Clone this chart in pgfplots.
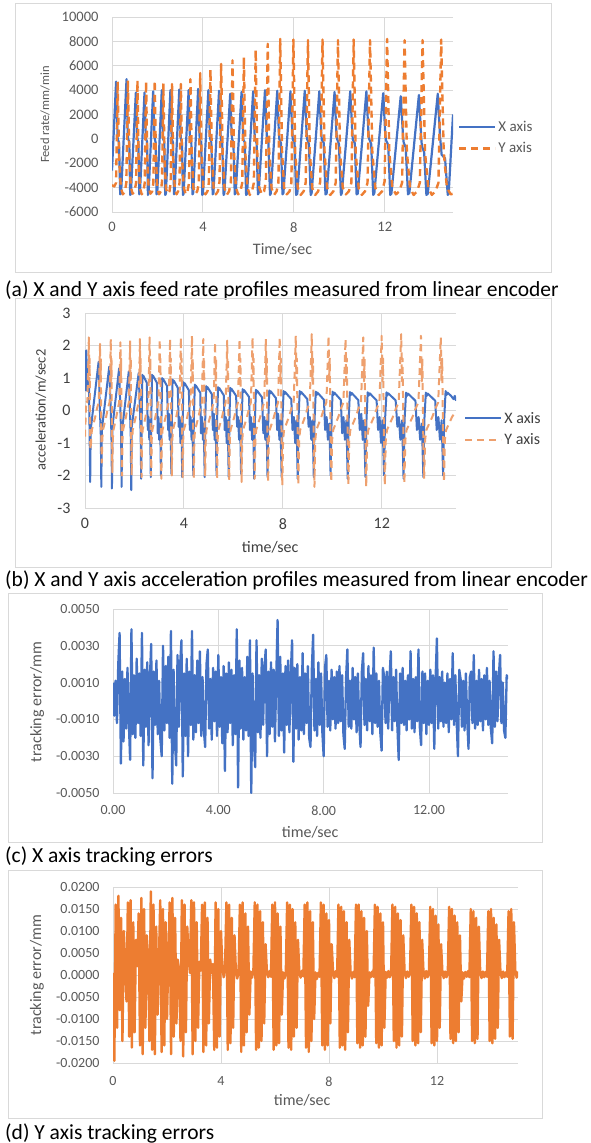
\documentclass[border=0pt]{standalone}
\usepackage{fontspec}
\setmainfont{Carlito}
\usepackage{pgfplots}
\pgfplotsset{compat=1.18}

\definecolor{xblue}{HTML}{4472C4}
\definecolor{yorange}{HTML}{ED7D31}
\definecolor{ylight}{HTML}{EEA06E}
\definecolor{gridgray}{HTML}{D9D9D9}
\definecolor{labgray}{HTML}{595959}
\definecolor{labdark}{HTML}{404040}

\pgfplotsset{
  excel/.style={
    scale only axis,
    xmin=0, xmax=15,
    xtick={0,4,8,12},
    axis x line*=bottom, axis y line*=left,
    axis line style={draw=gridgray, line width=0.9pt, -},
    grid=major,
    major grid style={draw=gridgray, line width=0.9pt},
    major tick length=0pt,
    tick style={draw=none},
    scaled ticks=false,
    clip=true,
    legend cell align=left,
    legend image code/.code={\draw[##1] (0pt,0pt) -- (36pt,0pt);},
    every axis plot/.append style={line join=round, mark=none},
  },
}

\begin{document}
\begin{tikzpicture}
\useasboundingbox (0pt,0pt) rectangle (590pt,-1143pt);
\fill[white] (0pt,0pt) rectangle (590pt,-1143pt);

% ---------------- (a) feed rate ----------------
\draw[gridgray, line width=0.9pt] (15pt,-3pt) rectangle (551pt,-272pt);
\begin{axis}[excel,
  at={(112pt,-212pt)}, anchor=south west,
  width=341pt, height=195pt,
  ymin=-6000, ymax=10000,
  ytick={-6000,-4000,-2000,0,2000,4000,6000,8000,10000},
  yticklabels={-6000,-4000,-2000,0,2000,4000,6000,8000,10000},
  xticklabels={0,4,8,12},
  tick label style={font=\fontsize{14.5}{17}\selectfont, text=labgray},
  yticklabel style={xshift=-10pt},
  xticklabel style={yshift=-7pt},
  xlabel={Time/sec},
  xlabel style={at={(axis description cs:0.5,-0.19)}, anchor=center, font=\fontsize{16}{19}\selectfont, text=labgray},
  ylabel={Feed rate/mm/min},
  ylabel style={at={(axis description cs:-0.196,0.5)}, anchor=center, font=\fontsize{12.5}{15}\selectfont, text=labgray},
  legend style={at={(axis description cs:1.014,0.382)}, anchor=west, draw=none, fill=none,
    font=\fontsize{15}{18}\selectfont, text=labgray, row sep=6pt, inner sep=0pt},
]
\addplot[xblue, line width=2.2pt] coordinates {
 (0.00,-2600)
 (0.18,4700) (0.24,600) (0.25,0) (0.31,-300) (0.36,-4550) (0.40,-4450)
 (0.64,4900) (0.69,500) (0.71,0) (0.76,-250) (0.80,-4600) (0.83,-4500)
 (1.05,3800) (1.10,600) (1.11,100) (1.16,-300) (1.20,-4550) (1.23,-4400)
 (1.43,3800) (1.48,500) (1.49,0) (1.54,-200) (1.58,-4600) (1.61,-4450)
 (1.81,3900) (1.86,700) (1.87,100) (1.92,-300) (1.96,-4550) (1.99,-4450)
 (2.19,4000) (2.24,600) (2.25,0) (2.30,-250) (2.34,-4600) (2.37,-4500)
 (2.57,4000) (2.62,500) (2.63,0) (2.68,-300) (2.73,-4550) (2.75,-4450)
 (2.96,4050) (3.01,600) (3.03,0) (3.08,-300) (3.12,-4600) (3.15,-4500)
 (3.37,4000) (3.42,500) (3.44,-50) (3.49,-350) (3.54,-4550) (3.57,-4450)
 (3.79,4100) (3.84,600) (3.86,0) (3.92,-300) (3.97,-4600) (4.00,-4500)
 (4.24,4000) (4.30,500) (4.32,0) (4.37,-300) (4.43,-4550) (4.46,-4450)
 (4.71,3950) (4.77,600) (4.79,-100) (4.85,-350) (4.91,-4600) (4.94,-4500)
 (5.20,3700) (5.26,500) (5.28,0) (5.34,-300) (5.40,-4550) (5.44,-4450)
 (5.70,3850) (5.76,600) (5.78,-50) (5.84,-300) (5.90,-4600) (5.94,-4500)
 (6.21,3900) (6.27,500) (6.29,0) (6.36,-350) (6.42,-4550) (6.45,-4450)
 (6.73,4000) (6.80,600) (6.82,-100) (6.88,-300) (6.95,-4600) (6.98,-4500)
 (7.27,3950) (7.34,500) (7.36,0) (7.43,-350) (7.50,-4550) (7.54,-4450)
 (7.85,3900) (7.93,600) (7.95,-50) (8.03,-300) (8.10,-4600) (8.15,-4500)
 (8.48,3950) (8.56,500) (8.58,0) (8.66,-400) (8.74,-4600) (8.78,-4450)
 (9.12,3900) (9.20,600) (9.23,-100) (9.31,-300) (9.39,-4550) (9.44,-4500)
 (9.79,3850) (9.87,500) (9.90,0) (9.98,-400) (10.07,-4600) (10.11,-4450)
 (10.48,3900) (10.57,600) (10.59,-50) (10.68,-350) (10.76,-4550) (10.81,-4500)
 (11.19,3900) (11.28,500) (11.31,0) (11.40,-400) (11.49,-4600) (11.54,-4450)
 (11.93,3750) (12.02,400) (12.05,-100) (12.15,-500) (12.24,-4600) (12.29,-4500)
 (12.70,3500) (12.80,300) (12.83,-300) (12.92,-700) (13.02,-4550) (13.08,-4450)
 (13.50,3600) (13.60,200) (13.63,-600) (13.73,-1100) (13.83,-4600) (13.89,-4500)
 (14.33,3700) (14.43,200) (14.50,-1300) (14.65,-1600) (14.77,-4600) (14.81,-4500) (15.00,2000)
};
\addlegendentry{X axis}
\addplot[yorange, line width=2.4pt, dash pattern=on 7pt off 5pt] coordinates {
 (0.00,-3800) (0.10,-3900) (0.18,-3600)
 (0.25,4700) (0.31,-1500) (0.39,-4000) (0.48,-4550) (0.57,-4300) (0.63,-3600)
 (0.70,4800) (0.76,-1400) (0.83,-4000) (0.91,-4500) (0.99,-4300) (1.06,-3600)
 (1.12,4800) (1.17,-1600) (1.23,-4050) (1.31,-4550) (1.39,-4250) (1.44,-3600)
 (1.50,4700) (1.55,-1500) (1.61,-4000) (1.69,-4500) (1.77,-4300) (1.82,-3600)
 (1.88,4800) (1.93,-1400) (1.99,-4000) (2.07,-4550) (2.15,-4300) (2.20,-3500)
 (2.26,4550) (2.31,-1500) (2.37,-4050) (2.45,-4500) (2.53,-4300) (2.58,-3600)
 (2.64,4500) (2.69,-1600) (2.76,-4000) (2.84,-4550) (2.91,-4300) (2.97,-3600)
 (3.03,4500) (3.08,-1500) (3.16,-4000) (3.24,-4550) (3.32,-4300) (3.39,-3600)
 (3.45,4900) (3.51,-1400) (3.58,-4050) (3.67,-4500) (3.75,-4300) (3.82,-3600)
 (3.88,5400) (3.94,-1300) (4.02,-4000) (4.11,-4550) (4.20,-4300) (4.26,-3600)
 (4.33,5700) (4.39,-1200) (4.47,-4000) (4.57,-4550) (4.66,-4300) (4.73,-3500)
 (4.80,6150) (4.87,-1300) (4.95,-4050) (5.05,-4600) (5.15,-4300) (5.23,-3600)
 (5.30,6450) (5.37,-1200) (5.45,-4000) (5.55,-4550) (5.65,-4300) (5.73,-3600)
 (5.80,6700) (5.87,-1300) (5.96,-4000) (6.06,-4600) (6.16,-4300) (6.24,-3600)
 (6.32,7300) (6.39,-1100) (6.48,-4000) (6.59,-4550) (6.69,-4300) (6.77,-3500)
 (6.85,7800) (6.92,-1200) (7.02,-4050) (7.13,-4600) (7.24,-4300) (7.32,-3600)
 (7.40,8200) (7.48,-1000) (7.57,-4000) (7.69,-4550) (7.81,-4300) (7.89,-3600)
 (7.98,8150) (8.06,-1100) (8.17,-4000) (8.30,-4600) (8.43,-4300) (8.52,-3600)
 (8.62,8100) (8.70,-1000) (8.81,-4050) (8.94,-4600) (9.07,-4300) (9.16,-3500)
 (9.26,8150) (9.35,-1100) (9.46,-4000) (9.60,-4600) (9.74,-4300) (9.84,-3600)
 (9.94,8100) (10.03,-1000) (10.15,-4000) (10.29,-4550) (10.42,-4300) (10.53,-3600)
 (10.63,8150) (10.72,-1100) (10.85,-4050) (10.99,-4600) (11.13,-4300) (11.24,-3600)
 (11.35,8100) (11.45,-1000) (11.58,-4000) (11.73,-4600) (11.88,-4300) (11.99,-3500)
 (12.10,8200) (12.20,-1100) (12.33,-4000) (12.49,-4550) (12.64,-4300) (12.76,-3600)
 (12.87,8100) (12.97,-1000) (13.11,-4050) (13.27,-4600) (13.42,-4300) (13.54,-3600)
 (13.66,8100) (13.77,-1100) (13.91,-4000) (14.07,-4600) (14.23,-4300) (14.36,-3600)
 (14.48,8150) (14.59,-1000) (14.73,-4000) (14.90,-4550) (15.00,-4500)
};
\addlegendentry{Y axis}
\end{axis}
\node[anchor=west, font=\fontsize{21.5}{25}\selectfont, inner sep=0pt] at (5pt,-290pt) {(a) X and Y axis feed rate profiles measured from linear encoder};

% ---------------- (b) acceleration ----------------
\draw[gridgray, line width=0.9pt] (15pt,-298pt) rectangle (551pt,-567pt);
\begin{axis}[excel,
  at={(85pt,-508pt)}, anchor=south west,
  width=371pt, height=195pt,
  ymin=-3, ymax=3,
  ytick={-3,-2,-1,0,1,2,3},
  yticklabels={-3,-2,-1,0,1,2,3},
  xticklabels={0,4,8,12},
  tick label style={font=\fontsize{16}{19}\selectfont, text=labdark},
  yticklabel style={xshift=-11pt},
  xticklabel style={yshift=-7pt},
  xlabel={time/sec},
  xlabel style={at={(axis description cs:0.499,-0.2)}, anchor=center, font=\fontsize{16}{19}\selectfont, text=labdark},
  ylabel={acceleration/m/sec2},
  ylabel style={at={(axis description cs:-0.119,0.503)}, anchor=center, font=\fontsize{14.5}{17}\selectfont, text=labdark},
  legend style={at={(axis description cs:1.022,0.405)}, anchor=west, draw=none, fill=none,
    font=\fontsize{16}{19}\selectfont, text=labdark, row sep=5pt, inner sep=0pt},
]
\addplot[xblue, line width=2pt] coordinates {
 (0.00,0.6) (0.05,1.85) (0.10,0.6) (0.16,0.9) (0.21,-2.2)
 (0.23,-0.6) (0.55,1.5) (0.59,0.3) (0.64,-0.8) (0.66,-2.35)
 (0.68,-0.6) (0.98,1.35) (1.03,0.3) (1.07,-0.8) (1.09,-2.4)
 (1.11,-0.5) (1.38,1.3) (1.42,0.3) (1.46,-0.7) (1.48,-2.35)
 (1.50,-0.6) (1.77,1.2) (1.81,0.2) (1.85,-0.8) (1.87,-2.45)
 (1.89,-0.5) (2.17,1.15) (2.21,0.3) (2.25,-0.7) (2.27,-2.1)
 (2.29,-0.3) (2.32,1.1) (2.34,1.0) (2.36,1.07) (2.50,0.85) (2.54,-0.6) (2.57,-0.2) (2.60,-0.9) (2.63,-0.3) (2.66,-2.05)
 (2.68,-0.3) (2.71,1.1) (2.73,1.0) (2.75,1.07) (2.91,0.85) (2.94,-0.7) (2.97,-0.2) (3.00,-0.9) (3.04,-0.4) (3.07,-2.0)
 (3.09,-0.3) (3.12,1.0) (3.14,0.9) (3.16,0.97) (3.32,0.75) (3.36,-0.6) (3.39,-0.1) (3.42,-0.9) (3.46,-0.3) (3.49,-1.95)
 (3.51,-0.3) (3.54,0.95) (3.57,0.85) (3.59,0.92) (3.75,0.7) (3.79,-0.5) (3.82,-0.2) (3.86,-1.0) (3.90,-0.3) (3.93,-2.05)
 (3.95,-0.3) (3.98,0.87) (4.01,0.77) (4.03,0.84) (4.20,0.62) (4.24,-0.6) (4.27,-0.2) (4.31,-0.9) (4.34,-0.3) (4.38,-2.0)
 (4.40,-0.3) (4.44,0.8) (4.46,0.7) (4.48,0.77) (4.66,0.55) (4.69,-0.7) (4.73,-0.2) (4.77,-0.9) (4.80,-0.4) (4.84,-2.05)
 (4.86,-0.3) (4.90,0.75) (4.92,0.65) (4.95,0.72) (5.13,0.5) (5.17,-0.6) (5.21,-0.1) (5.24,-0.9) (5.28,-0.3) (5.32,-2.0)
 (5.34,-0.3) (5.38,0.72) (5.40,0.62) (5.43,0.69) (5.61,0.47) (5.65,-0.6) (5.69,-0.2) (5.73,-1.0) (5.77,-0.3) (5.81,-2.05)
 (5.84,-0.3) (5.87,0.7) (5.90,0.6) (5.92,0.67) (6.11,0.45) (6.15,-0.5) (6.19,-0.2) (6.23,-0.9) (6.27,-0.3) (6.31,-1.95)
 (6.34,-0.3) (6.37,0.66) (6.40,0.56) (6.43,0.63) (6.63,0.42) (6.67,-0.6) (6.71,-0.2) (6.76,-0.9) (6.80,-0.4) (6.84,-2.1)
 (6.87,-0.3) (6.91,0.64) (6.93,0.54) (6.96,0.61) (7.16,0.4) (7.21,-0.7) (7.25,-0.2) (7.29,-0.9) (7.34,-0.3) (7.38,-2.05)
 (7.41,-0.3) (7.45,0.62) (7.48,0.52) (7.51,0.59) (7.72,0.38) (7.77,-0.6) (7.81,-0.1) (7.86,-0.9) (7.90,-0.3) (7.95,-2.05)
 (7.98,-0.3) (8.03,0.6) (8.06,0.5) (8.09,0.57) (8.34,0.35) (8.39,-0.6) (8.44,-0.2) (8.50,-1.0) (8.55,-0.3) (8.60,-2.1)
 (8.63,-0.3) (8.68,0.6) (8.71,0.5) (8.74,0.57) (8.99,0.35) (9.04,-0.5) (9.09,-0.2) (9.15,-0.9) (9.20,-0.3) (9.25,-2.05)
 (9.28,-0.3) (9.33,0.58) (9.37,0.48) (9.40,0.55) (9.66,0.33) (9.71,-0.6) (9.77,-0.2) (9.82,-0.9) (9.88,-0.4) (9.93,-2.0)
 (9.97,-0.3) (10.01,0.58) (10.05,0.48) (10.08,0.55) (10.34,0.33) (10.40,-0.7) (10.45,-0.2) (10.51,-0.9) (10.57,-0.3) (10.62,-2.1)
 (10.66,-0.3) (10.71,0.57) (10.74,0.47) (10.78,0.54) (11.05,0.32) (11.11,-0.6) (11.17,-0.1) (11.23,-0.9) (11.28,-0.3) (11.34,-2.05)
 (11.38,-0.3) (11.43,0.56) (11.47,0.46) (11.51,0.53) (11.79,0.31) (11.85,-0.6) (11.91,-0.2) (11.97,-1.0) (12.03,-0.3) (12.09,-2.0)
 (12.13,-0.3) (12.19,0.56) (12.22,0.46) (12.26,0.53) (12.56,0.31) (12.63,-0.5) (12.69,-0.2) (12.75,-0.9) (12.82,-0.3) (12.88,-2.1)
 (12.92,-0.3) (12.98,0.55) (13.02,0.45) (13.06,0.52) (13.36,0.3) (13.42,-0.6) (13.49,-0.2) (13.55,-0.9) (13.62,-0.4) (13.68,-2.05)
 (13.72,-0.3) (13.78,0.55) (13.82,0.45) (13.86,0.52) (14.16,0.3) (14.22,-0.6) (14.29,-0.2) (14.35,-0.9) (14.42,-0.3) (14.48,-2.0)
 (14.52,-0.3) (14.58,0.6) (14.62,0.48) (14.66,0.55) (14.80,0.45) (14.90,0.35) (14.95,0.45) (15.00,0.3)
};
\addlegendentry{X axis}
\addplot[ylight, line width=2pt, dash pattern=on 7pt off 5pt] coordinates {
 (0.000,-0.8) (0.050,0.3)
 (0.097,0.25) (0.156,2.25) (0.174,0.9) (0.188,1.6) (0.210,-1.0) (0.228,-1.2) (0.250,-0.9) (0.278,-0.6) (0.413,-0.2) (0.480,0.05)
 (0.553,0.25) (0.608,2.05) (0.626,0.9) (0.639,1.6) (0.660,-1.0) (0.677,-1.6) (0.699,-0.9) (0.725,-0.6) (0.854,-0.2) (0.918,0.05)
 (0.993,0.25) (1.043,2.2) (1.059,0.9) (1.071,1.6) (1.090,-1.0) (1.106,-1.9) (1.125,-0.9) (1.149,-0.6) (1.266,-0.2) (1.324,0.05)
 (1.383,0.25) (1.433,2.1) (1.449,0.9) (1.461,1.6) (1.480,-1.0) (1.496,-2.0) (1.515,-0.9) (1.539,-0.6) (1.656,-0.2) (1.714,0.05)
 (1.773,0.25) (1.823,2.15) (1.839,0.9) (1.851,1.6) (1.870,-1.0) (1.886,-2.0) (1.906,-0.9) (1.930,-0.6) (2.050,-0.2) (2.110,0.05)
 (2.170,0.25) (2.222,2.2) (2.238,0.9) (2.250,1.6) (2.270,-1.0) (2.286,-2.05) (2.305,-0.9) (2.329,-0.6) (2.446,-0.2) (2.504,0.05)
 (2.562,0.25) (2.613,2.25) (2.629,0.9) (2.641,1.6) (2.660,-1.0) (2.676,-2.0) (2.697,-0.9) (2.722,-0.6) (2.845,-0.2) (2.906,0.05)
 (2.967,0.25) (3.020,2.2) (3.037,0.9) (3.049,1.6) (3.070,-1.0) (3.087,-2.1) (3.108,-0.9) (3.133,-0.6) (3.259,-0.2) (3.322,0.05)
 (3.385,0.25) (3.437,2.2) (3.455,0.9) (3.468,1.6) (3.490,-1.0) (3.508,-2.0) (3.530,-0.9) (3.556,-0.6) (3.688,-0.2) (3.754,0.05)
 (3.820,0.25) (3.876,2.25) (3.894,0.9) (3.908,1.6) (3.930,-1.0) (3.948,-2.05) (3.971,-0.9) (3.998,-0.6) (4.133,-0.2) (4.200,0.05)
 (4.267,0.25) (4.325,2.3) (4.343,0.9) (4.357,1.6) (4.380,-1.0) (4.398,-2.1) (4.421,-0.9) (4.449,-0.6) (4.587,-0.2) (4.656,0.05)
 (4.725,0.25) (4.782,2.2) (4.802,0.9) (4.816,1.6) (4.840,-1.0) (4.859,-2.0) (4.883,-0.9) (4.912,-0.6) (5.056,-0.2) (5.128,0.05)
 (5.200,0.25) (5.261,2.1) (5.281,0.9) (5.296,1.6) (5.320,-1.0) (5.340,-2.1) (5.364,-0.9) (5.394,-0.6) (5.541,-0.2) (5.614,0.05)
 (5.687,0.25) (5.750,2.15) (5.770,0.9) (5.785,1.6) (5.810,-1.0) (5.830,-2.15) (5.855,-0.9) (5.885,-0.6) (6.035,-0.2) (6.110,0.05)
 (6.185,0.25) (6.246,2.2) (6.268,0.9) (6.284,1.6) (6.310,-1.0) (6.331,-2.2) (6.358,-0.9) (6.390,-0.6) (6.549,-0.2) (6.628,0.05)
 (6.707,0.25) (6.775,2.25) (6.797,0.9) (6.813,1.6) (6.840,-1.0) (6.862,-2.1) (6.889,-0.9) (6.921,-0.6) (7.083,-0.2) (7.164,0.05)
 (7.245,0.25) (7.312,2.2) (7.334,0.9) (7.352,1.6) (7.380,-1.0) (7.403,-2.2) (7.431,-0.9) (7.466,-0.6) (7.637,-0.2) (7.722,0.05)
 (7.808,0.25) (7.872,2.25) (7.898,0.9) (7.918,1.6) (7.950,-1.0) (7.976,-2.3) (8.009,-0.9) (8.048,-0.6) (8.243,-0.2) (8.340,0.05)
 (8.438,0.25) (8.522,2.3) (8.548,0.9) (8.568,1.6) (8.600,-1.0) (8.626,-2.3) (8.659,-0.9) (8.698,-0.6) (8.893,-0.2) (8.990,0.05)
 (9.088,0.25) (9.168,2.35) (9.196,0.9) (9.216,1.6) (9.250,-1.0) (9.277,-2.35) (9.311,-0.9) (9.352,-0.6) (9.556,-0.2) (9.658,0.05)
 (9.760,0.25) (9.847,2.3) (9.875,0.9) (9.896,1.6) (9.930,-1.0) (9.958,-2.2) (9.992,-0.9) (10.034,-0.6) (10.241,-0.2) (10.344,0.05)
 (10.448,0.25) (10.534,2.2) (10.562,0.9) (10.584,1.6) (10.620,-1.0) (10.649,-2.3) (10.685,-0.9) (10.728,-0.6) (10.944,-0.2) (11.052,0.05)
 (11.160,0.25) (11.250,2.25) (11.280,0.9) (11.303,1.6) (11.340,-1.0) (11.370,-2.35) (11.408,-0.9) (11.453,-0.6) (11.678,-0.2) (11.790,0.05)
 (11.903,0.25) (11.995,2.3) (12.027,0.9) (12.051,1.6) (12.090,-1.0) (12.122,-2.3) (12.161,-0.9) (12.209,-0.6) (12.446,-0.2) (12.564,0.05)
 (12.683,0.25) (12.784,2.35) (12.816,0.9) (12.840,1.6) (12.880,-1.0) (12.912,-2.25) (12.952,-0.9) (13.000,-0.6) (13.240,-0.2) (13.360,0.05)
 (13.480,0.25) (13.584,2.3) (13.616,0.9) (13.640,1.6) (13.680,-1.0) (13.712,-2.1) (13.752,-0.9) (13.800,-0.6) (14.040,-0.2) (14.160,0.05)
 (14.280,0.25) (14.384,2.25) (14.416,0.9) (14.440,1.6) (14.480,-1.0) (14.512,-2.2) (14.552,-0.9) (14.600,-0.6) (14.840,-0.2) (15.000,0.0)
};
\addlegendentry{Y axis}
\end{axis}
\node[anchor=west, font=\fontsize{21.5}{25}\selectfont, inner sep=0pt] at (5pt,-580pt) {(b) X and Y axis acceleration profiles measured from linear encoder};

% ---------------- (c) X tracking error ----------------
\draw[gridgray, line width=0.9pt] (8pt,-593pt) rectangle (542pt,-842pt);
\begin{axis}[excel,
  at={(113pt,-793pt)}, anchor=south west,
  width=395pt, height=184pt,
  ymin=-0.005, ymax=0.005,
  ytick={-0.005,-0.003,-0.001,0.001,0.003,0.005},
  yticklabels={-0.0050,-0.0030,-0.0010,0.0010,0.0030,0.0050},
  xticklabels={0.00,4.00,8.00,12.00},
  tick label style={font=\fontsize{14}{17}\selectfont, text=labgray},
  yticklabel style={xshift=-10pt},
  xticklabel style={yshift=-9pt},
  xlabel={time/sec},
  xlabel style={at={(axis description cs:0.499,-0.212)}, anchor=center, font=\fontsize{16}{19}\selectfont, text=labgray},
  ylabel={tracking error/mm},
  ylabel style={at={(axis description cs:-0.192,0.495)}, anchor=center, font=\fontsize{16}{19}\selectfont, text=labgray},
]
\addplot[xblue, line width=2.3pt] table[row sep=\\] {
t v\\
0.00 0.0010\\ 0.05 -0.0008\\ 0.10 0.0011\\ 0.15 -0.0012\\ 0.20 0.0020\\ 0.25 0.0037\\ 0.30 -0.0034\\ 0.35 0.0016\\ 0.40 -0.0022\\ 0.45 0.0012\\
0.50 -0.0015\\ 0.55 0.0018\\ 0.60 -0.0011\\ 0.65 -0.0032\\ 0.70 0.0039\\ 0.75 -0.0018\\ 0.80 0.0014\\ 0.85 -0.0020\\ 0.90 0.0023\\ 0.95 -0.0012\\
1.00 0.0015\\ 1.05 -0.0019\\ 1.10 0.0037\\ 1.15 -0.0035\\ 1.20 0.0017\\ 1.25 -0.0014\\ 1.30 0.0021\\ 1.35 -0.0024\\ 1.40 0.0012\\ 1.45 0.0031\\
1.50 -0.0042\\ 1.55 0.0016\\ 1.60 -0.0013\\ 1.65 0.0022\\ 1.70 -0.0018\\ 1.75 0.0011\\ 1.80 -0.0021\\ 1.85 -0.0030\\ 1.90 0.0030\\ 1.95 -0.0016\\
2.00 0.0019\\ 2.05 -0.0012\\ 2.10 0.0024\\ 2.15 -0.0020\\ 2.20 0.0038\\ 2.25 -0.0045\\ 2.30 0.0017\\ 2.35 -0.0022\\ 2.40 -0.0035\\ 2.45 0.0025\\
2.50 -0.0014\\ 2.55 0.0020\\ 2.60 0.0033\\ 2.65 -0.0041\\ 2.70 0.0015\\ 2.75 -0.0019\\ 2.80 0.0023\\ 2.85 -0.0030\\ 2.90 0.0016\\ 2.95 -0.0013\\
3.00 0.0038\\ 3.05 -0.0021\\ 3.10 0.0014\\ 3.15 -0.0017\\ 3.20 0.0022\\ 3.25 -0.0012\\ 3.30 0.0027\\ 3.35 -0.0019\\ 3.40 0.0013\\ 3.45 -0.0016\\
3.50 -0.0025\\ 3.55 0.0020\\ 3.60 0.0028\\ 3.65 -0.0015\\ 3.70 0.0012\\ 3.75 -0.0021\\ 3.80 0.0018\\ 3.85 -0.0011\\ 3.90 0.0016\\ 3.95 -0.0019\\
4.00 0.0025\\ 4.05 -0.0014\\ 4.10 0.0013\\ 4.15 -0.0023\\ 4.20 0.0019\\ 4.25 -0.0038\\ 4.30 0.0015\\ 4.35 -0.0017\\ 4.40 0.0021\\ 4.45 -0.0012\\
4.50 0.0017\\ 4.55 -0.0024\\ 4.60 0.0014\\ 4.65 -0.0018\\ 4.70 0.0039\\ 4.75 -0.0047\\ 4.80 0.0022\\ 4.85 -0.0015\\ 4.90 0.0018\\ 4.95 -0.0021\\
5.00 0.0013\\ 5.05 -0.0016\\ 5.10 0.0024\\ 5.15 -0.0019\\ 5.20 0.0033\\ 5.25 -0.0050\\ 5.30 0.0015\\ 5.35 -0.0022\\ 5.40 -0.0036\\ 5.45 0.0033\\
5.50 -0.0017\\ 5.55 0.0014\\ 5.60 -0.0020\\ 5.65 0.0023\\ 5.70 -0.0013\\ 5.75 0.0018\\ 5.80 0.0028\\ 5.85 -0.0030\\ 5.90 0.0016\\ 5.95 -0.0018\\
6.00 0.0021\\ 6.05 -0.0014\\ 6.10 0.0017\\ 6.15 -0.0022\\ 6.20 0.0013\\ 6.25 0.0044\\ 6.30 -0.0019\\ 6.35 0.0024\\ 6.40 -0.0016\\ 6.45 0.0015\\
6.50 -0.0028\\ 6.55 0.0019\\ 6.60 -0.0013\\ 6.65 0.0022\\ 6.70 -0.0017\\ 6.75 0.0014\\ 6.80 0.0033\\ 6.85 -0.0033\\ 6.90 0.0018\\ 6.95 -0.0015\\
7.00 0.0020\\ 7.05 -0.0021\\ 7.10 0.0013\\ 7.15 -0.0016\\ 7.20 0.0026\\ 7.25 -0.0018\\ 7.30 0.0015\\ 7.35 -0.0012\\ 7.40 0.0019\\ 7.45 -0.0020\\
7.50 -0.0025\\ 7.55 0.0017\\ 7.60 0.0036\\ 7.65 -0.0016\\ 7.70 0.0012\\ 7.75 -0.0019\\ 7.80 0.0021\\ 7.85 -0.0013\\ 7.90 0.0015\\ 7.95 -0.0017\\
8.00 -0.0030\\ 8.05 0.0018\\ 8.10 0.0025\\ 8.15 -0.0014\\ 8.20 0.0011\\ 8.25 -0.0016\\ 8.30 0.0017\\ 8.35 -0.0010\\ 8.40 0.0013\\ 8.45 -0.0015\\
8.50 0.0016\\ 8.55 -0.0012\\ 8.60 0.0019\\ 8.65 -0.0011\\ 8.70 0.0014\\ 8.75 -0.0018\\ 8.80 -0.0026\\ 8.85 0.0012\\ 8.90 0.0028\\ 8.95 -0.0014\\
9.00 0.0011\\ 9.05 -0.0015\\ 9.10 0.0018\\ 9.15 -0.0010\\ 9.20 0.0013\\ 9.25 -0.0017\\ 9.30 0.0015\\ 9.35 -0.0012\\ 9.40 -0.0025\\ 9.45 0.0016\\
9.50 0.0026\\ 9.55 -0.0013\\ 9.60 0.0012\\ 9.65 -0.0016\\ 9.70 0.0019\\ 9.75 -0.0011\\ 9.80 0.0014\\ 9.85 -0.0018\\ 9.90 0.0029\\ 9.95 -0.0012\\
10.00 0.0015\\ 10.05 -0.0014\\ 10.10 0.0011\\ 10.15 -0.0017\\ 10.20 -0.0027\\ 10.25 0.0018\\ 10.30 0.0013\\ 10.35 -0.0012\\ 10.40 0.0016\\ 10.45 -0.0015\\
10.50 0.0012\\ 10.55 0.0027\\ 10.60 -0.0016\\ 10.65 0.0013\\ 10.70 -0.0011\\ 10.75 0.0017\\ 10.80 -0.0014\\ 10.85 -0.0032\\ 10.90 0.0015\\ 10.95 -0.0012\\
11.00 0.0018\\ 11.05 -0.0013\\ 11.10 0.0011\\ 11.15 -0.0016\\ 11.20 0.0014\\ 11.25 -0.0010\\ 11.30 0.0027\\ 11.35 -0.0015\\ 11.40 0.0012\\ 11.45 -0.0017\\
11.50 0.0013\\ 11.55 -0.0011\\ 11.60 0.0028\\ 11.65 -0.0014\\ 11.70 -0.0024\\ 11.75 0.0016\\ 11.80 -0.0012\\ 11.85 0.0015\\ 11.90 -0.0018\\ 11.95 0.0011\\
12.00 -0.0013\\ 12.05 0.0017\\ 12.10 -0.0012\\ 12.15 0.0014\\ 12.20 -0.0026\\ 12.25 0.0012\\ 12.30 0.0034\\ 12.35 -0.0015\\ 12.40 0.0013\\ 12.45 -0.0011\\
12.50 0.0016\\ 12.55 -0.0014\\ 12.60 0.0010\\ 12.65 -0.0012\\ 12.70 0.0015\\ 12.75 -0.0017\\ 12.80 0.0012\\ 12.85 -0.0010\\ 12.90 0.0026\\ 12.95 -0.0013\\
13.00 0.0014\\ 13.05 -0.0011\\ 13.10 -0.0030\\ 13.15 0.0017\\ 13.20 0.0012\\ 13.25 -0.0014\\ 13.30 0.0011\\ 13.35 -0.0016\\ 13.40 0.0015\\ 13.45 -0.0010\\
13.50 -0.0026\\ 13.55 0.0013\\ 13.60 0.0016\\ 13.65 -0.0012\\ 13.70 0.0025\\ 13.75 -0.0015\\ 13.80 0.0011\\ 13.85 -0.0013\\ 13.90 0.0017\\ 13.95 -0.0011\\
14.00 0.0012\\ 14.05 -0.0016\\ 14.10 0.0014\\ 14.15 -0.0010\\ 14.20 0.0018\\ 14.25 -0.0013\\ 14.30 0.0011\\ 14.35 -0.0015\\ 14.40 -0.0023\\ 14.45 0.0027\\
14.50 -0.0014\\ 14.55 0.0016\\ 14.60 -0.0011\\ 14.65 0.0013\\ 14.70 0.0025\\ 14.75 -0.0012\\ 14.80 0.0010\\ 14.85 -0.0016\\ 14.90 -0.0020\\ 14.95 0.0014\\
15.00 0.0012\\
};
\end{axis}
\node[anchor=west, font=\fontsize{21.5}{25}\selectfont, inner sep=0pt] at (5pt,-856pt) {(c) X axis tracking errors};

% ---------------- (d) Y tracking error ----------------
\draw[gridgray, line width=0.9pt] (8pt,-870pt) rectangle (542pt,-1118pt);
\begin{axis}[excel,
  at={(113pt,-1063pt)}, anchor=south west,
  width=405pt, height=176pt,
  ymin=-0.02, ymax=0.02,
  ytick={-0.02,-0.015,-0.01,-0.005,0,0.005,0.01,0.015,0.02},
  yticklabels={-0.0200,-0.0150,-0.0100,-0.0050,0.0000,0.0050,0.0100,0.0150,0.0200},
  xticklabels={0,4,8,12},
  tick label style={font=\fontsize{14}{17}\selectfont, text=labgray},
  yticklabel style={xshift=-10pt},
  xticklabel style={yshift=-10pt},
  xlabel={time/sec},
  xlabel style={at={(axis description cs:0.467,-0.21)}, anchor=center, font=\fontsize{16}{19}\selectfont, text=labgray},
  ylabel={tracking error/mm},
  ylabel style={at={(axis description cs:-0.188,0.5)}, anchor=center, font=\fontsize{16}{19}\selectfont, text=labgray},
]
\addplot[yorange, line width=2.4pt] table[row sep=\\] {
t v\\
0.00 0.0005\\ 0.05 -0.0195\\ 0.10 0.0160\\ 0.15 -0.0120\\ 0.20 0.0180\\ 0.25 -0.0080\\ 0.30 0.0130\\ 0.35 -0.0150\\ 0.40 0.0100\\ 0.45 0.0030\\
0.50 -0.0060\\ 0.55 0.0165\\ 0.60 -0.0140\\ 0.65 0.0170\\ 0.70 -0.0165\\ 0.75 0.0120\\ 0.80 -0.0130\\ 0.85 0.0080\\ 0.90 0.0020\\ 0.95 0.0140\\
1.00 -0.0160\\ 1.05 0.0175\\ 1.10 -0.0180\\ 1.15 0.0150\\ 1.20 -0.0120\\ 1.25 0.0090\\ 1.30 0.0040\\ 1.35 -0.0150\\ 1.40 0.0190\\ 1.45 -0.0170\\
1.50 0.0160\\ 1.55 -0.0180\\ 1.60 0.0110\\ 1.65 -0.0090\\ 1.70 0.0030\\ 1.75 0.0170\\ 1.80 -0.0175\\ 1.85 0.0150\\ 1.90 -0.0160\\ 1.95 0.0120\\
2.00 -0.0100\\ 2.05 0.0045\\ 2.10 0.0165\\ 2.15 -0.0180\\ 2.20 0.0175\\ 2.25 -0.0140\\ 2.30 0.0130\\ 2.35 -0.0110\\ 2.40 0.0035\\ 2.45 0.0010\\
2.50 -0.0150\\ 2.55 0.0170\\ 2.60 -0.0185\\ 2.65 0.0160\\ 2.70 -0.0130\\ 2.75 0.0110\\ 2.80 0.0040\\ 2.85 0.0005\\ 2.90 0.0170\\ 2.95 -0.0180\\
3.00 0.0165\\ 3.05 -0.0150\\ 3.10 0.0120\\ 3.15 -0.0120\\ 3.20 0.0030\\ 3.25 0.0010\\ 3.30 0.0160\\ 3.35 -0.0175\\ 3.40 0.0165\\ 3.45 -0.0160\\
3.50 0.0130\\ 3.55 -0.0110\\ 3.60 0.0035\\ 3.65 0.0005\\ 3.70 0.0025\\ 3.75 -0.0170\\ 3.80 0.0165\\ 3.85 -0.0165\\ 3.90 0.0150\\ 3.95 -0.0140\\
4.00 0.0100\\ 4.05 0.0020\\ 4.10 -0.0005\\ 4.15 0.0015\\ 4.20 0.0165\\ 4.25 -0.0170\\ 4.30 0.0160\\ 4.35 -0.0155\\ 4.40 0.0130\\ 4.45 -0.0120\\
4.50 0.0090\\ 4.55 0.0010\\ 4.60 -0.0008\\ 4.65 0.0006\\ 4.70 0.0160\\ 4.75 -0.0175\\ 4.80 0.0165\\ 4.85 -0.0160\\ 4.90 0.0140\\ 4.95 -0.0130\\
5.00 0.0110\\ 5.05 -0.0090\\ 5.10 0.0008\\ 5.15 -0.0006\\ 5.20 0.0010\\ 5.25 0.0165\\ 5.30 -0.0170\\ 5.35 0.0160\\ 5.40 -0.0165\\ 5.45 0.0145\\
5.50 -0.0150\\ 5.55 0.0120\\ 5.60 -0.0110\\ 5.65 0.0070\\ 5.70 0.0008\\ 5.75 -0.0005\\ 5.80 0.0009\\ 5.85 -0.0004\\ 5.90 0.0160\\ 5.95 -0.0170\\
6.00 0.0165\\ 6.05 -0.0160\\ 6.10 0.0140\\ 6.15 -0.0155\\ 6.20 0.0110\\ 6.25 -0.0090\\ 6.30 0.0006\\ 6.35 -0.0008\\ 6.40 0.0004\\ 6.45 0.0165\\
6.50 -0.0165\\ 6.55 0.0160\\ 6.60 -0.0170\\ 6.65 0.0150\\ 6.70 -0.0140\\ 6.75 0.0120\\ 6.80 -0.0120\\ 6.85 0.0080\\ 6.90 0.0007\\ 6.95 -0.0006\\
7.00 0.0010\\ 7.05 -0.0003\\ 7.10 0.0160\\ 7.15 -0.0165\\ 7.20 0.0165\\ 7.25 -0.0175\\ 7.30 0.0145\\ 7.35 -0.0150\\ 7.40 0.0120\\ 7.45 -0.0100\\
7.50 0.0006\\ 7.55 -0.0009\\ 7.60 0.0005\\ 7.65 -0.0004\\ 7.70 0.0165\\ 7.75 -0.0160\\ 7.80 0.0160\\ 7.85 -0.0170\\ 7.90 0.0140\\ 7.95 -0.0160\\
8.00 0.0125\\ 8.05 -0.0110\\ 8.10 0.0070\\ 8.15 0.0006\\ 8.20 -0.0007\\ 8.25 0.0009\\ 8.30 -0.0004\\ 8.35 0.0160\\ 8.40 -0.0165\\ 8.45 0.0155\\
8.50 -0.0160\\ 8.55 0.0145\\ 8.60 -0.0170\\ 8.65 0.0120\\ 8.70 -0.0130\\ 8.75 0.0080\\ 8.80 0.0005\\ 8.85 -0.0008\\ 8.90 0.0007\\ 8.95 -0.0005\\
9.00 0.0160\\ 9.05 -0.0155\\ 9.10 0.0160\\ 9.15 -0.0165\\ 9.20 0.0145\\ 9.25 -0.0160\\ 9.30 0.0130\\ 9.35 -0.0140\\ 9.40 0.0100\\ 9.45 -0.0070\\
9.50 0.0006\\ 9.55 -0.0005\\ 9.60 0.0008\\ 9.65 -0.0004\\ 9.70 0.0160\\ 9.75 -0.0155\\ 9.80 0.0155\\ 9.85 -0.0165\\ 9.90 0.0140\\ 9.95 -0.0160\\
10.00 0.0120\\ 10.05 -0.0120\\ 10.10 0.0007\\ 10.15 -0.0006\\ 10.20 0.0009\\ 10.25 -0.0005\\ 10.30 0.0004\\ 10.35 0.0160\\ 10.40 -0.0150\\ 10.45 0.0155\\
10.50 -0.0165\\ 10.55 0.0140\\ 10.60 -0.0160\\ 10.65 0.0125\\ 10.70 -0.0140\\ 10.75 0.0090\\ 10.80 0.0006\\ 10.85 -0.0007\\ 10.90 0.0008\\ 10.95 -0.0004\\
11.00 0.0005\\ 11.05 0.0160\\ 11.10 -0.0150\\ 11.15 0.0155\\ 11.20 -0.0160\\ 11.25 0.0140\\ 11.30 -0.0155\\ 11.35 0.0120\\ 11.40 -0.0130\\ 11.45 0.0080\\
11.50 0.0005\\ 11.55 -0.0008\\ 11.60 0.0009\\ 11.65 -0.0005\\ 11.70 0.0006\\ 11.75 0.0155\\ 11.80 -0.0155\\ 11.85 0.0150\\ 11.90 -0.0160\\ 11.95 0.0135\\
12.00 -0.0150\\ 12.05 0.0115\\ 12.10 -0.0120\\ 12.15 0.0070\\ 12.20 0.0006\\ 12.25 -0.0007\\ 12.30 0.0008\\ 12.35 -0.0005\\ 12.40 0.0004\\ 12.45 0.0155\\
12.50 -0.0145\\ 12.55 0.0150\\ 12.60 -0.0155\\ 12.65 0.0135\\ 12.70 -0.0150\\ 12.75 0.0120\\ 12.80 -0.0130\\ 12.85 0.0090\\ 12.90 -0.0060\\ 12.95 0.0006\\
13.00 -0.0008\\ 13.05 0.0007\\ 13.10 -0.0004\\ 13.15 0.0009\\ 13.20 -0.0005\\ 13.25 0.0150\\ 13.30 -0.0150\\ 13.35 0.0145\\ 13.40 -0.0155\\ 13.45 0.0130\\
13.50 -0.0145\\ 13.55 0.0110\\ 13.60 0.0006\\ 13.65 -0.0007\\ 13.70 0.0008\\ 13.75 -0.0005\\ 13.80 0.0007\\ 13.85 -0.0004\\ 13.90 0.0145\\ 13.95 -0.0150\\
14.00 0.0150\\ 14.05 -0.0155\\ 14.10 0.0130\\ 14.15 -0.0145\\ 14.20 0.0115\\ 14.25 -0.0120\\ 14.30 0.0080\\ 14.35 0.0006\\ 14.40 -0.0007\\ 14.45 0.0008\\
14.50 -0.0005\\ 14.55 0.0006\\ 14.60 -0.0004\\ 14.65 0.0145\\ 14.70 -0.0140\\ 14.75 0.0150\\ 14.80 -0.0145\\ 14.85 0.0120\\ 14.90 0.0010\\ 14.95 -0.0006\\
15.00 0.0008\\
};
\end{axis}
\node[anchor=west, font=\fontsize{21.5}{25}\selectfont, inner sep=0pt] at (5pt,-1133pt) {(d) Y axis tracking errors};
\end{tikzpicture}
\end{document}
